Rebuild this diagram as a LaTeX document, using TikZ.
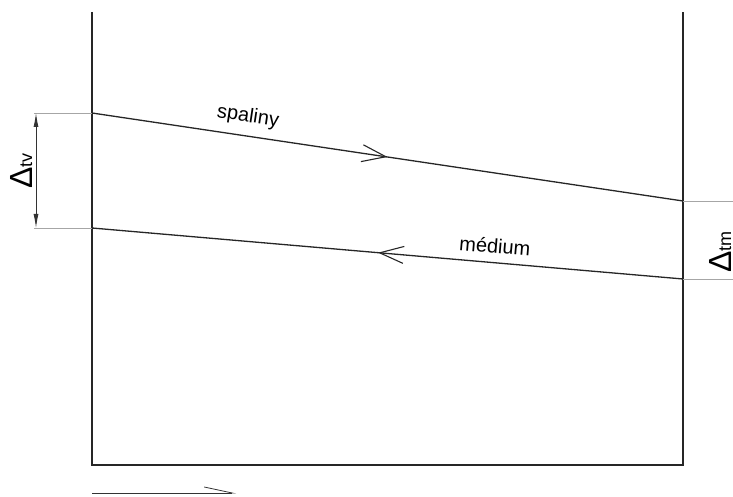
\documentclass[tikz,border=0pt]{standalone}
\usepackage{fontspec}
\setmainfont{Liberation Sans}
\usetikzlibrary{arrows.meta,decorations.markings}
\begin{document}
\begin{tikzpicture}[x=1pt,y=1pt,
  mainline/.style={line width=1.3pt,draw=black!85},
  extline/.style={line width=0.7pt,draw=black!35},
  midarrow/.style={postaction={decorate},decoration={markings,
     mark=at position #1 with {\arrow{Straight Barb[length=24pt,width=17pt,line width=1.1pt]}}}},
  lbl/.style={inner sep=0pt,font=\fontsize{20}{20}\selectfont}
]
\useasboundingbox (0,0) rectangle (733,497);
\clip (0,0) rectangle (733,497);
% frame
\coordinate (LT) at (92,485);
\coordinate (LB) at (92,32);
\coordinate (RB) at (683,32);
\coordinate (RT) at (683,485);
\draw[mainline] (LT) -- (LB) -- (RB) -- (RT);
% flows
\coordinate (S1) at (92,384);
\coordinate (S2) at (683,296);
\coordinate (M1) at (92,269);
\coordinate (M2) at (683,218);
\draw[mainline,midarrow=0.5] (S1) -- (S2);
\draw[mainline,midarrow=0.516] (M2) -- (M1);
\node[lbl,rotate=-8.5] (sp) at (248,380) {spaliny};
\node[lbl,rotate=-4.9] (me) at (495,251) {médium};
% left dimension
\coordinate (E1) at (34,384);
\coordinate (E2) at (34,269);
\draw[extline] (E1) -- (S1);
\draw[extline] (E2) -- (M1);
\coordinate (D1) at (36,384);
\coordinate (D2) at (36,269);
\draw[line width=0.9pt,black!80,{Latex[length=14pt,width=5pt]}-{Latex[length=14pt,width=5pt]}] (D1) -- (D2);
\node[inner sep=0pt,rotate=90,anchor=base] (dtv) at (32,326) {\fontsize{32}{32}\selectfont Δ\fontsize{18}{18}\selectfont tv};
% right dimension
\coordinate (F1) at (733,296);
\coordinate (F2) at (733,218);
\draw[extline] (S2) -- (F1);
\draw[extline] (M2) -- (F2);
\node[inner sep=0pt,rotate=90,anchor=base west] (dtm) at (731,224) {\fontsize{32}{32}\selectfont Δ\fontsize{18}{18}\selectfont tm};
% bottom flow direction arrow
\coordinate (B1) at (92,4);
\coordinate (B2) at (236,4);
\draw[line width=0.8pt,black!80,-{Straight Barb[left,length=28pt,width=12pt,line width=0.8pt]}] (B1) -- (B2);
\end{tikzpicture}
\end{document}
